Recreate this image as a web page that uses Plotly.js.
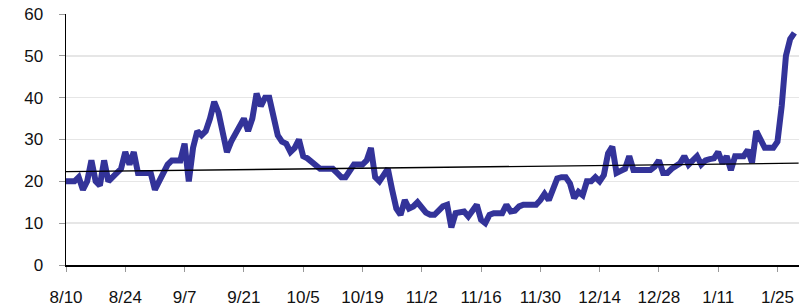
<!DOCTYPE html>
<html>
<head>
<meta charset="utf-8">
<script src="https://cdn.plot.ly/plotly-3.0.1.min.js"></script>
<style>html,body{margin:0;padding:0;background:#fff;}#chart{width:799px;height:306px;}</style>
</head>
<body>
<div id="chart"></div>
<script>
// Daily series starting 2007-08-10
const startDate = '2007-08-10';
const values = [
  20, 20, 20, 21, 18, 20, 25, 20, 19, 25,
  20, 21, 22, 23, 27, 24, 27, 22, 22, 22,
  22, 18, 20, 22, 24, 25, 25, 25, 29, 20,
  28, 32, 31, 32, 35, 39, 36.5, 32, 27, 29.5,
  31.5, 33, 35, 32, 35, 41, 38, 40, 40, 35.5,
  31, 29.5, 29, 27, 28, 30, 26, 25.5, 24.5, 23.5,
  23, 23, 23, 23, 22, 21, 21, 22.5, 24, 24,
  24, 25, 28, 21, 20, 21.5, 23, 18, 13.5, 12,
  15.5, 13.5, 14, 15, 13.5, 12.5, 12, 12, 13, 14,
  14.4, 9, 12.4, 12.6, 12.8, 11.6, 13, 14.4, 10.8, 10,
  12, 12.4, 12.4, 12.4, 14.4, 12.8, 13, 14, 14.4, 14.4,
  14.4, 14.4, 15.5, 17, 15.5, 18, 20.7, 21, 21, 19.5,
  16, 17.5, 16.7, 20, 20, 21, 20, 21.5, 26.7, 28.3,
  22, 22.5, 23, 26, 22.7, 22.7, 22.7, 22.7, 22.7, 23.5,
  25, 22, 22, 23, 23.5, 24.3, 26, 24, 25, 26,
  24, 25, 25.3, 25.5, 27, 24.3, 26, 22.7, 26, 26,
  26, 27.5, 24.5, 32, 30.3, 28, 28, 28, 29.5, 38,
  50, 54, 55.5
];
const trendDates = ['2007-08-10', '2008-01-30'];
const trendValues = [22.3, 24.35];
const tickDates = ['2007-08-10','2007-08-24','2007-09-07','2007-09-21','2007-10-05','2007-10-19',
  '2007-11-02','2007-11-16','2007-11-30','2007-12-14','2007-12-28','2008-01-11','2008-01-25'];
const tickLabels = ['8/10','8/24','9/7','9/21','10/5','10/19','11/2','11/16','11/30','12/14','12/28','1/11','1/25'];

function isoDay(i){
  const d = new Date(startDate + 'T00:00:00Z');
  d.setUTCDate(d.getUTCDate() + i);
  return d.toISOString().slice(0,10);
}
const dates = values.map((v,i) => isoDay(i));

const font = {family: 'Liberation Sans, Arial, sans-serif', size: 17, color: '#111'};

Plotly.newPlot('chart', [
  {x: dates, y: values, type: 'scatter', mode: 'lines',
   line: {color: '#333399', width: 6}, hoverinfo: 'skip'},
  {x: trendDates, y: trendValues, type: 'scatter', mode: 'lines',
   line: {color: '#000000', width: 1.3}, hoverinfo: 'skip'}
], {
  width: 799, height: 306,
  margin: {l: 66, r: 0, t: 14, b: 41, pad: 0},
  paper_bgcolor: '#fff', plot_bgcolor: '#fff',
  showlegend: false,
  font: font,
  xaxis: {
    type: 'date',
    range: ['2007-08-10', '2008-01-30 02:00'],
    tickmode: 'array', tickvals: tickDates, ticktext: tickLabels,
    ticks: 'outside', ticklen: 5, tickcolor: '#999', tickwidth: 1,
    showline: true, linecolor: '#000', linewidth: 1.5,
    showgrid: false, zeroline: false,
    ticklabelstandoff: 11,
    tickfont: font
  },
  yaxis: {
    range: [0, 60],
    tickmode: 'array', tickvals: [0,10,20,30,40,50,60],
    ticks: 'outside', ticklen: 6, tickcolor: '#999', tickwidth: 1,
    showline: true, linecolor: '#000', linewidth: 1.5,
    showgrid: true, gridcolor: '#e6e6e6', gridwidth: 1.5,
    zeroline: false,
    ticklabelstandoff: 12,
    tickfont: font
  }
}, {staticPlot: true, displayModeBar: false});
</script>
</body>
</html>
